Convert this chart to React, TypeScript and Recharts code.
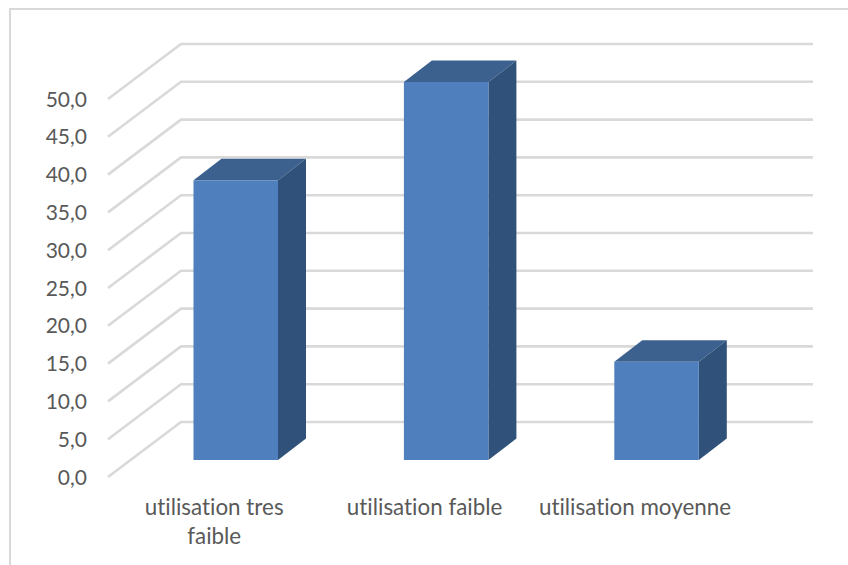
// 3D-look column chart: usage levels, drawn as extruded boxes on a receding grid.
import { Bar, BarChart, CartesianGrid, XAxis, YAxis } from 'recharts'

const categories = ['utilisation tres\nfaible', 'utilisation faible', 'utilisation moyenne']
const values = [37, 50, 13]
const yTicks = [0, 5, 10, 15, 20, 25, 30, 35, 40, 45, 50]

const FRONT = '#4f7fbc'
const TOP = '#3c618f'
const SIDE = '#30527a'
const GRID = '#d9d9d9'
const TEXT = '#595959'
const FONT = 'Lato, sans-serif'

// extrusion of the bars, and of the floor/wall the grid sits on
const BAR_DX = 28
const BAR_DY = 21.5
const WALL_X0 = 108
const WALL_X1 = 181
const WALL_X2 = 813
const WALL_UP = 38
const WALL_DOWN = 17

const data = categories.map((name, i) => ({ name, value: values[i] }))

function Box({ x, y, width, height }: any) {
  const r = x + width
  const b = y + height
  return (
    <g>
      <polygon points={`${x},${y} ${x + BAR_DX},${y - BAR_DY} ${r + BAR_DX},${y - BAR_DY} ${r},${y}`} fill={TOP} />
      <polygon points={`${r},${y} ${r + BAR_DX},${y - BAR_DY} ${r + BAR_DX},${b - BAR_DY} ${r},${b}`} fill={SIDE} />
      <rect x={x} y={y} width={width} height={height} fill={FRONT} />
    </g>
  )
}

function GridLine(props: any) {
  const y = props.y1
  return (
    <polyline
      key={props.key ?? y}
      points={`${WALL_X0},${y + WALL_DOWN} ${WALL_X1},${y - WALL_UP} ${WALL_X2},${y - WALL_UP}`}
      fill="none"
      stroke={GRID}
      strokeWidth={2.6}
    />
  )
}

function ValueTick({ y, payload }: any) {
  return (
    <text x={87} y={y + WALL_DOWN - 1} textAnchor="end" dominantBaseline="central" fontFamily={FONT} fontSize={21} fill={TEXT}>
      {payload.value.toFixed(1).replace('.', ',')}
    </text>
  )
}

function CategoryTick({ x, payload }: any) {
  const lines: string[] = payload.value.split('\n')
  return (
    <text textAnchor="middle" fontFamily={FONT} fontSize={22.4} fill={TEXT} style={{ fontVariantLigatures: 'none' }}>
      {lines.map((line, i) => (
        <tspan key={line} x={x - 21.5} y={515 + i * 29}>
          {line}
        </tspan>
      ))}
    </text>
  )
}

export default function App() {
  return (
    <div style={{ position: 'absolute', left: 0, top: 0, width: 848, height: 565, overflow: 'hidden', background: '#fff' }}>
      <div style={{ position: 'absolute', left: 9, top: 8, width: 900, height: 600, borderLeft: `2px solid ${GRID}`, borderTop: `2px solid ${GRID}` }} />
      <div style={{ position: 'absolute', left: 0, top: 0 }}>
        <BarChart width={848} height={565} data={data} margin={{ top: 82, right: 86.3, bottom: 104, left: 129.5 }}>
          <CartesianGrid vertical={false} horizontal={GridLine} />
          <XAxis dataKey="name" height={1} axisLine={false} tickLine={false} interval={0} tick={CategoryTick} />
          <YAxis width={1} domain={[0, 50]} ticks={yTicks} axisLine={false} tickLine={false} tick={ValueTick} />
          <Bar dataKey="value" barSize={84.5} shape={Box} isAnimationActive={false} />
        </BarChart>
      </div>
    </div>
  )
}
